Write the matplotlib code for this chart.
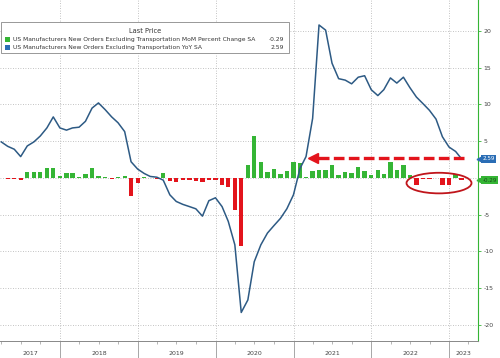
import matplotlib
matplotlib.use('Agg')
import matplotlib.pyplot as plt
import matplotlib.dates as mdates
from matplotlib.patches import Ellipse, Rectangle
import pandas as pd

plt.rcParams['font.family'] = ['DejaVu Sans']

# monthly data, Mar 2017 .. Feb 2023 (Bloomberg plots at month end)
months = pd.date_range('2017-03-31', '2023-02-28', freq='ME')

yoy = [4.9, 4.3, 3.9, 2.9, 4.35, 4.9, 5.7, 6.8, 8.3, 6.8,
       6.5, 6.8, 6.9, 7.7, 9.5, 10.2, 9.3, 8.3, 7.5, 6.3, 2.2, 1.2,
       0.6, 0.2, 0.1, -0.3, -2.3, -3.2, -3.6, -3.9, -4.2, -5.2, -3.1, -2.7,
       -3.9, -5.9, -9.1, -18.3, -16.6, -11.4, -9.1, -7.5, -6.5, -5.5, -4.2, -2.3,
       1.3, 2.9, 8.1, 20.8, 20.1, 15.6, 13.5, 13.3, 12.8, 13.7, 13.9, 12.0,
       11.2, 12.0, 13.6, 12.9, 13.7, 12.3, 11.0, 10.1, 9.2, 8.0, 5.6, 4.2,
       3.6, 2.59]

mom = [0.05, -0.1, -0.1, -0.3, 0.77, 0.85, 0.85, 1.4, 1.35, 0.27,
       0.63, 0.68, 0.1, 0.55, 1.4, 0.2, 0.1, -0.15, 0.1, 0.2, -2.45, -0.73,
       0.1, 0.05, -0.2, 0.63, -0.36, -0.5, -0.27, -0.27, -0.45, -0.5, -0.27, -0.27,
       -1.0, -1.27, -4.35, -9.25, 1.77, 5.7, 2.2, 0.86, 1.2, 0.54, 1.0, 2.15,
       2.0, 0.1, 0.9, 1.1, 1.1, 1.7, 0.45, 0.8, 0.7, 1.45, 0.9, 0.4,
       1.1, 0.6, 2.1, 1.1, 1.8, 0.45, -0.95, -0.1, -0.15, 0.05, -1.0, -1.0,
       0.6, -0.29]

years = [2017, 2018, 2019, 2020, 2021, 2022, 2023]
yticks = [-20, -15, -10, -5, 0, 5, 10, 15, 20]

mom_label = 'US Manufacturers New Orders Excluding Transportation MoM Percent Change SA'
yoy_label = 'US Manufacturers New Orders Excluding Transportation YoY SA'

GREEN = '#35b535'
RED = '#e3141c'
LINE = '#2d5a84'
BLUE_TAG = '#2a6db5'

fig = plt.figure(figsize=(5, 3.58), dpi=100)
ax = fig.add_axes([0, 1 - 341 / 358, 478 / 500, 341 / 358])
ax.set_axisbelow(True)

colors = [GREEN if v >= 0 else RED for v in mom]
ax.bar(months, mom, width=20, color=colors, zorder=2)
ax.plot(months, yoy, color=LINE, lw=1.1, zorder=3)

x0, x1 = pd.Timestamp('2017-03-25'), pd.Timestamp('2023-05-16')
ax.set_xlim(x0, x1)
ax.set_ylim(-22.18, 24.2)

# right axis (the 0 label sits under the last-price tag)
ax.yaxis.tick_right()
ax.set_yticks(yticks)
ax.set_yticklabels(['' if t == 0 else str(t) for t in yticks])
ax.tick_params(axis='y', labelsize=4.5, labelcolor='#444444', color=GREEN,
               length=2.5, width=0.6, pad=1.5)
for s in ['left', 'top']:
    ax.spines[s].set_visible(False)
ax.spines['right'].set_color(GREEN)
ax.spines['right'].set_linewidth(0.8)
ax.spines['bottom'].set_color('#888888')
ax.spines['bottom'].set_linewidth(0.7)

# bottom axis: year separators + quarter ticks
ax.xaxis.set_major_locator(mdates.YearLocator())
ax.xaxis.set_minor_locator(mdates.MonthLocator(bymonth=[4, 7, 10]))
ax.xaxis.set_major_formatter(plt.NullFormatter())
ax.tick_params(axis='x', which='major', length=12.5, width=0.6, color='#999999')
ax.tick_params(axis='x', which='minor', length=1.8, width=0.5, color='#999999')

for y in years:
    a = max(pd.Timestamp(f'{y}-01-01'), x0)
    b = min(pd.Timestamp(f'{y + 1}-01-01'), x1)
    mid = a + (b - a) / 2
    ax.text(mid, -0.038, str(y), transform=ax.get_xaxis_transform(),
            ha='center', va='center', fontsize=4.5, color='#444444')

ax.grid(which='major', linestyle=(0, (1, 2)), color='#b0b0b0', lw=0.6)

# last price tags
ytr = ax.get_yaxis_transform()
for val, fc, tc in [(yoy[-1], BLUE_TAG, 'white'), (mom[-1], GREEN, '#1a4d1a')]:
    ax.plot([1.003], [val], marker='<', ms=3.5, color=fc, transform=ytr,
            clip_on=False, zorder=6)
    ax.text(1.009, val, f'{val:.2f}', transform=ytr, ha='left', va='center',
            fontsize=4.1, color=tc, zorder=6, clip_on=False,
            bbox=dict(boxstyle='square,pad=0.25', fc=fc, ec='none'))

# red dashed arrow and circle
arrow_y = 2.7
ax.plot([pd.Timestamp('2023-03-09'), pd.Timestamp('2021-04-10')], [arrow_y, arrow_y],
        color=RED, lw=2.4, ls=(0, (3.2, 1.3)), solid_capstyle='butt', zorder=4)
ax.plot([pd.Timestamp('2021-03-31')], [arrow_y], marker='<', ms=6.5, color=RED,
        mec=RED, zorder=4)
ell = Ellipse((mdates.date2num(pd.Timestamp('2022-11-14')), -0.7), width=305,
              height=2.8, fc='none', ec='#c0151b', lw=1.3, zorder=5)
ax.add_patch(ell)

# legend box
fig.add_artist(Rectangle((0.001, 1 - 53 / 358), 288 / 500, 31 / 358,
                         transform=fig.transFigure, fc='white', ec='#888888',
                         lw=0.6, zorder=10))
fig.text(145 / 500, 1 - 31 / 358, 'Last Price', ha='center', va='center',
         fontsize=4.8, color='#333333', zorder=11)
for i, (lab, val, c) in enumerate([(mom_label, mom[-1], GREEN), (yoy_label, yoy[-1], BLUE_TAG)]):
    yy = 1 - (39.3 + 8.2 * i) / 358
    fig.add_artist(Rectangle((5 / 500, yy - 2.5 / 358), 5 / 500, 5 / 358,
                             transform=fig.transFigure, fc=c, ec='none', zorder=11))
    fig.text(13 / 500, yy, lab, ha='left', va='center', fontsize=4.3,
             color='#333333', zorder=11)
    fig.text(284 / 500, yy, f'{val:.2f}', ha='right', va='center', fontsize=4.3,
             color='#333333', zorder=11)

fig.savefig('out.png', dpi=100)
